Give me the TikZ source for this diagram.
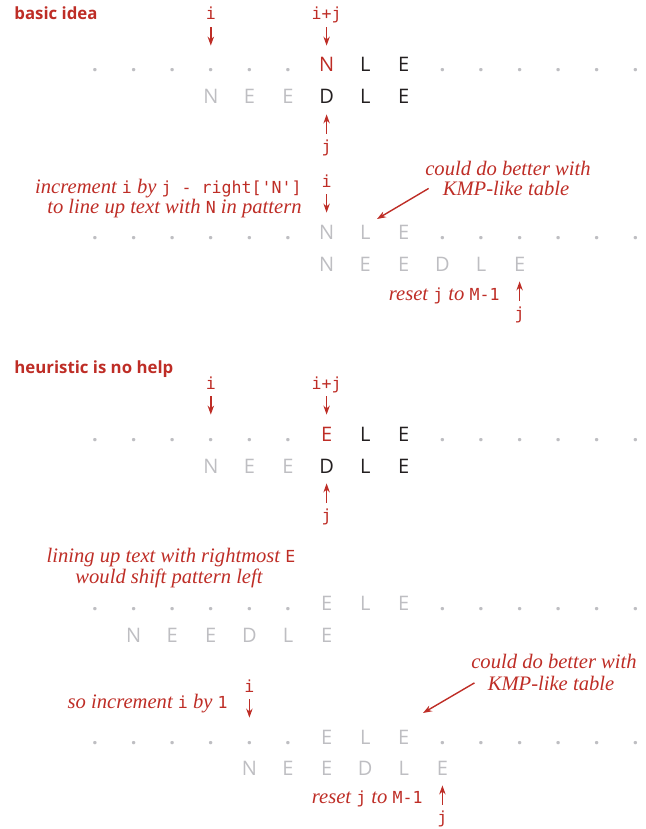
\documentclass[tikz,border=0pt]{standalone}
\usepackage{fontspec}
\setmainfont{Liberation Serif}
\setsansfont{Open Sans}
\setmonofont{DejaVu Sans Mono}
\usetikzlibrary{arrows.meta, positioning}
\definecolor{bookred}{RGB}{190, 45, 38}
\definecolor{fadegray}{RGB}{190, 190, 194}
\definecolor{inkblack}{RGB}{35, 31, 32}
\newcommand{\cx}[1]{95+38.6*#1}
\newcommand{\prog}[1]{{\fontsize{8.3}{10}\ttfamily\upshape #1}}
\tikzset{
  chr/.style={
    inner sep=0pt,
    anchor=base,
    text height=7.5pt,
    text depth=0pt,
    font=\fontsize{10}{12}\sffamily
  },
  chrgray/.style={chr, text=fadegray},
  chrdot/.style={chrgray, font=\fontsize{10}{12}\sffamily\bfseries},
  chrink/.style={chr, text=inkblack},
  chrhit/.style={chr, text=bookred},
  idx/.style={
    inner sep=0pt,
    anchor=base,
    text height=6pt,
    text depth=2pt,
    text=bookred,
    font=\fontsize{8.3}{10}\ttfamily
  },
  heading/.style={
    inner sep=0pt,
    anchor=base west,
    text=bookred,
    font=\fontsize{8.4}{10}\sffamily\bfseries
  },
  note/.style={
    inner sep=0pt,
    text=bookred,
    font=\fontsize{10.3}{12}\itshape
  },
  ptrdown/.style={
    -{Stealth[length=4.5pt, width=3.2pt]},
    draw=bookred,
    line width=0.7pt,
    shorten <=1.5pt,
    shorten >=5.5pt
  },
  ptrup/.style={
    -{Stealth[length=4.5pt, width=3.2pt]},
    draw=bookred,
    line width=0.7pt,
    shorten <=3pt,
    shorten >=5pt
  },
  hint/.style={
    -{Stealth[length=4.5pt, width=3.2pt]},
    draw=bookred,
    line width=0.7pt
  }
}

\begin{document}
\begin{tikzpicture}[x=0.5pt, y=-0.5pt]
  \useasboundingbox (0,0) rectangle (645,829);

  % basic idea
  \node[heading] (head1) at (14,20) {basic idea};
  \foreach \k in {0,1,2,3,4,5,9,10,11,12,13,14}
    \node[chrdot] (t1-\k) at ({\cx{\k}},72) {.};
  \node[chrhit] (t1-6) at ({\cx{6}},72) {N};
  \node[chrink] (t1-7) at ({\cx{7}},72) {L};
  \node[chrink] (t1-8) at ({\cx{8}},72) {E};
  \foreach \k/\c in {3/N,4/E,5/E}
    \node[chrgray] (p1-\k) at ({\cx{\k}},104) {\c};
  \foreach \k/\c in {6/D,7/L,8/E}
    \node[chrink] (p1-\k) at ({\cx{\k}},104) {\c};
  \node[idx] (i1) at ({\cx{3}},20) {i};
  \node[idx] (ij1) at ({\cx{6}},20) {i+j};
  \node[idx] (j1) at ({\cx{6}},152) {j};
  \path (i1) edge[ptrdown] (t1-3)
        (ij1) edge[ptrdown] (t1-6)
        (j1) edge[ptrup] (p1-6);

  % shift by right[]
  \node[note, anchor=base east] (inc1) at (302,193) {increment \prog{i} by \prog{j - right['N']}};
  \node[note, anchor=base east] (inc2) at (302,213) {to line up text with \prog{N} in pattern};
  \node[note, anchor=base] (kmp1) at (508,175) {could do better with};
  \node[note, anchor=base] (kmp2) at (506,195) {KMP-like table};
  \coordinate (kmptip1) at (377,219);
  \foreach \k in {0,1,2,3,4,5,9,10,11,12,13,14}
    \node[chrdot] (t2-\k) at ({\cx{\k}},239) {.};
  \foreach \k/\c in {6/N,7/L,8/E}
    \node[chrgray] (t2-\k) at ({\cx{\k}},239) {\c};
  \foreach \k/\c in {6/N,7/E,8/E,9/D,10/L,11/E}
    \node[chrgray] (p2-\k) at ({\cx{\k}},271) {\c};
  \node[idx] (i2) at ({\cx{6}},187) {i};
  \node[note, anchor=base east] (reset1) at (500,300) {reset \prog{j} to \prog{M-1}};
  \node[idx] (j2) at ({\cx{11}},319) {j};
  \path (i2) edge[ptrdown] (t2-6)
        (j2) edge[ptrup] (p2-11)
        (kmp2.north west) edge[hint, shorten <=8pt] (kmptip1);

  % heuristic is no help
  \node[heading] (head2) at (14,373) {heuristic is no help};
  \foreach \k in {0,1,2,3,4,5,9,10,11,12,13,14}
    \node[chrdot] (t3-\k) at ({\cx{\k}},441) {.};
  \node[chrhit] (t3-6) at ({\cx{6}},441) {E};
  \node[chrink] (t3-7) at ({\cx{7}},441) {L};
  \node[chrink] (t3-8) at ({\cx{8}},441) {E};
  \foreach \k/\c in {3/N,4/E,5/E}
    \node[chrgray] (p3-\k) at ({\cx{\k}},473) {\c};
  \foreach \k/\c in {6/D,7/L,8/E}
    \node[chrink] (p3-\k) at ({\cx{\k}},473) {\c};
  \node[idx] (i3) at ({\cx{3}},389) {i};
  \node[idx] (ij3) at ({\cx{6}},389) {i+j};
  \node[idx] (j3) at ({\cx{6}},521) {j};
  \path (i3) edge[ptrdown] (t3-3)
        (ij3) edge[ptrdown] (t3-6)
        (j3) edge[ptrup] (p3-6);

  % rightmost E would go backwards
  \node[note, anchor=base] (left1) at (171,562) {lining up text with rightmost \prog{E}};
  \node[note, anchor=base] (left2) at (169,583) {would shift pattern left};
  \foreach \k in {0,1,2,3,4,5,9,10,11,12,13,14}
    \node[chrdot] (t4-\k) at ({\cx{\k}},610) {.};
  \foreach \k/\c in {6/E,7/L,8/E}
    \node[chrgray] (t4-\k) at ({\cx{\k}},610) {\c};
  \foreach \k/\c in {1/N,2/E,3/E,4/D,5/L,6/E}
    \node[chrgray] (p4-\k) at ({\cx{\k}},642) {\c};

  % shift by one
  \node[note, anchor=base] (kmp3) at (554,668) {could do better with};
  \node[note, anchor=base] (kmp4) at (551,690) {KMP-like table};
  \coordinate (kmptip2) at (423,713);
  \node[note, anchor=base east] (inc3) at (228,708) {so increment \prog{i} by \prog{1}};
  \foreach \k in {0,1,2,3,4,5,9,10,11,12,13,14}
    \node[chrdot] (t5-\k) at ({\cx{\k}},744) {.};
  \foreach \k/\c in {6/E,7/L,8/E}
    \node[chrgray] (t5-\k) at ({\cx{\k}},744) {\c};
  \foreach \k/\c in {4/N,5/E,6/E,7/D,8/L,9/E}
    \node[chrgray] (p5-\k) at ({\cx{\k}},775) {\c};
  \node[idx] (i5) at ({\cx{4}},692) {i};
  \node[note, anchor=base east] (reset2) at (423,803) {reset \prog{j} to \prog{M-1}};
  \node[idx] (j5) at ({\cx{9}},823) {j};
  \path (i5) edge[ptrdown] (t5-4)
        (j5) edge[ptrup] (p5-9)
        (kmp4.north west) edge[hint, shorten <=7.5pt] (kmptip2);
\end{tikzpicture}
\end{document}
